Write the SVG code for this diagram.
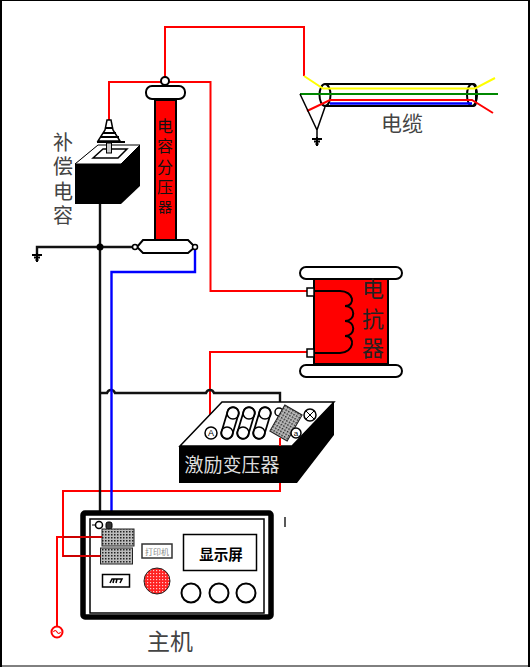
<svg xmlns="http://www.w3.org/2000/svg" width="530" height="667" viewBox="0 0 530 667">
<style>
text{font-family:"Noto Sans CJK SC","Liberation Sans",sans-serif;text-anchor:middle;dominant-baseline:central}
.v{writing-mode:vertical-rl}
.w{fill:none;stroke-width:2;stroke-linejoin:miter}
.r{stroke:#f00}.k{stroke:#111;stroke-width:2.400}.b{stroke:#00f;stroke-width:2.400}
.o{fill:#fff;stroke:#000;stroke-width:2}
.t{fill:#fff;stroke:#000;stroke-width:1.500}
.gr{fill:#444}
.f{fill:url(#dots);stroke:#222;stroke-width:1}
</style>
<defs>
<pattern id="dots" width="3" height="3" patternUnits="userSpaceOnUse"><rect width="3" height="3" fill="#bbb"/><rect width="1.500" height="1.500" fill="#222"/></pattern>
<pattern id="rdots" width="3" height="3" patternUnits="userSpaceOnUse"><rect width="3" height="3" fill="#f22"/><rect width="1.200" height="1.200" fill="#fcc"/></pattern>
<g id="gnd"><path d="M-5 0H5M-3 2.500H3M-1.500 5H1.500M0 -2V7" stroke="#000" stroke-width="2" fill="none"/></g>
</defs>
<path d="M1 0V667M529 0V667" stroke="#000" stroke-width="2"/>
<path d="M0 .5H530M0 666H530" stroke="#000" stroke-width="1"/>

<g id="connectors">
<path class="w r" d="M165 78V27H304V76"/>
<path class="w r" d="M109 120V82H210.500V291H308"/>
<path class="w r" d="M308 352H210V428"/>
<path class="w r" d="M280 438V491H63V556H101"/>
<path class="w r" d="M101 537H57V626"/>
<path class="w k" d="M100 155V520"/>
<path class="w k" d="M37 254V247H135"/>
<path class="w k" d="M100 393H107Q108 390 111 390Q114 390 115 393H206Q207 390 210 390Q213 390 214 393H280V406"/>
<path class="w b" d="M195 250V272H111.500V522"/>
<circle cx="100" cy="247" r="3.500" fill="#000"/>
<use href="#gnd" x="37" y="255"/>
</g>

<g id="capacitor">
<path d="M75 164L98 145H140V186L121 204H75Z" fill="#000"/>
<path d="M75 164L98 145H140L121 164Z" fill="#fff" stroke="#000" stroke-width="1"/>
<path d="M93 158L103 149H127L118 158Z" fill="#fff" stroke="#000" stroke-width="1.500"/>
<path d="M107 120H111L113 130L120 141H98L105 130Z" fill="#fff" stroke="#000" stroke-width="1.500"/>
<path d="M105 128H113M103 133H116M100 137H119M97 142H125" stroke="#000" stroke-width="1.800"/>
<rect x="106.500" y="143" width="5" height="10" fill="#ccc" stroke="#000"/>
<text class="v gr" x="63" y="181" font-size="20" letter-spacing="4.500">补偿电容</text>
</g>

<g id="divider">
<rect x="155" y="100" width="21" height="140" fill="#f00" stroke="#000" stroke-width="2"/>
<circle cx="165" cy="81" r="4" class="o"/>
<rect x="146" y="86" width="39" height="13" rx="6" class="o"/>
<path d="M143 240H188L195 247L188 253H143L137 247Z" class="o"/>
<circle cx="135" cy="247" r="2.500" class="t"/>
<circle cx="195" cy="247" r="2.500" class="t"/>
<text class="v" x="165" y="168" font-size="16" letter-spacing="4.600" fill="#111">电容分压<tspan font-size="14">器</tspan></text>
</g>

<g id="cable">
<path d="M325 84H473Q476 84 476 88V102Q476 106 473 106H325" fill="none" stroke="#000" stroke-width="2"/>
<ellipse cx="325" cy="95" rx="5.500" ry="11" fill="none" stroke="#000" stroke-width="2"/>
<ellipse cx="472" cy="95" rx="5" ry="11" fill="none" stroke="#000" stroke-width="2"/>
<path d="M304 76L323 88.500H475L495 78" fill="none" stroke="#ff0" stroke-width="2"/>
<path d="M300 94H498" stroke="#080" stroke-width="2"/>
<path d="M330 103.500H472" stroke="#00f" stroke-width="2.500"/>
<path d="M307 111L330 100H472L493 113" fill="none" stroke="#f00" stroke-width="2"/>
<path d="M300 94L317 130L325 107M317 130V138" fill="none" stroke="#000" stroke-width="1.500"/>
<use href="#gnd" x="317" y="139"/>
<text x="402" y="122" font-size="21" class="gr">电缆</text>
</g>

<g id="reactor">
<rect x="314" y="279" width="74" height="85" fill="#f00" stroke="#000" stroke-width="2"/>
<rect x="300" y="267" width="102" height="12" rx="6" class="o"/>
<rect x="300" y="365" width="102" height="12" rx="6" class="o"/>
<rect x="307" y="288" width="7" height="8" class="t"/>
<rect x="307" y="349" width="7" height="8" class="t"/>
<path d="M314 291H340C354 291 356 306 345 306C356 306 356 321 345 321C356 321 356 336 345 336C356 336 354 353 340 353H314" fill="none" stroke="#000" stroke-width="2"/>
<text class="v" x="373" y="322" font-size="22" letter-spacing="7.500" fill="#222">电抗器</text>
</g>

<g id="transformer">
<path d="M222 402H334L292 446H180Z" fill="#fff" stroke="#000" stroke-width="1.500"/>
<path d="M179 446H292L334 402V435L297 483H179Z" fill="#000"/>
<path d="M233 413L227 433M249 413L243 433M265 413L259 433" stroke="#000" stroke-width="13" stroke-linecap="round"/>
<path d="M233 413L227 433M249 413L243 433M265 413L259 433" stroke="#fff" stroke-width="9.500" stroke-linecap="round"/>
<g fill="none" stroke="#000" stroke-width="1.500"><circle cx="233" cy="413" r="6"/><circle cx="227" cy="433" r="6"/><circle cx="249" cy="413" r="6"/><circle cx="243" cy="433" r="6"/><circle cx="265" cy="413" r="6"/><circle cx="259" cy="433" r="6"/></g>
<circle cx="211" cy="433" r="6" class="t"/><text x="211" y="433" font-size="9" style="font-family:'Liberation Sans'">A</text>
<circle cx="279" cy="412" r="4" class="t"/>
<rect x="276" y="408" width="20" height="30" transform="rotate(30 286 423)" class="f"/>
<circle cx="296" cy="433" r="5" class="t"/><text x="296" y="433" font-size="8" style="font-family:'Liberation Sans'">a</text>
<circle cx="310" cy="415" r="6" class="t"/><path d="M306 411L314 419M314 411L306 419" stroke="#000"/>
<text x="232" y="463" font-size="19" fill="#ddd">激励变压器</text>
<path class="w r" d="M280 438V446"/>
</g>

<g id="host">
<rect x="83" y="513" width="188" height="104" rx="2" fill="#fff" stroke="#000" stroke-width="5.500"/>
<rect x="90" y="519" width="174" height="94" fill="none" stroke="#000" stroke-width="1.500"/>
<circle cx="99" cy="525" r="3.500" class="t"/><path d="M92 525H96" stroke="#000"/>
<rect x="106" y="522" width="6" height="7" rx="2" fill="#333" stroke="#000"/>
<rect x="102" y="529" width="32" height="17" class="f"/>
<rect x="100.500" y="548" width="32" height="16" class="f"/>
<path d="M63 537H102M63 556H100.500" stroke="#c00" stroke-width="2"/>
<rect x="142" y="544" width="30" height="14" fill="#fff" stroke="#333" stroke-width="1.500"/>
<text x="157" y="551" font-size="8" fill="#888">打印机</text>
<rect x="183.500" y="534.500" width="73" height="36" class="t"/>
<text x="221" y="553" font-size="14.500" font-weight="700" fill="#000">显示屏</text>
<rect x="102.500" y="574.500" width="27" height="12.500" class="t"/>
<path d="M110 583L112 579H122L120 583M114 579L113 583M117 579L116 583" stroke="#000" fill="none" stroke-width="1.500"/>
<circle cx="157" cy="581" r="13" fill="url(#rdots)" stroke="#222" stroke-width="1"/>
<circle cx="191" cy="593" r="9.500" class="o"/>
<circle cx="219" cy="593" r="9.500" class="o"/>
<circle cx="246" cy="593" r="9.500" class="o"/>
<text x="170" y="640" font-size="23" class="gr">主机</text>
</g>

<g id="ac-source">
<circle cx="57" cy="632" r="5.500" fill="#fff" stroke="#f00" stroke-width="2"/>
<path d="M53.500 632Q55 629 57 632T60.500 632" fill="none" stroke="#f00" stroke-width="1.200"/>
</g>
<path id="mark" d="M285 517V527" stroke="#222" stroke-width="1.500"/>
</svg>
